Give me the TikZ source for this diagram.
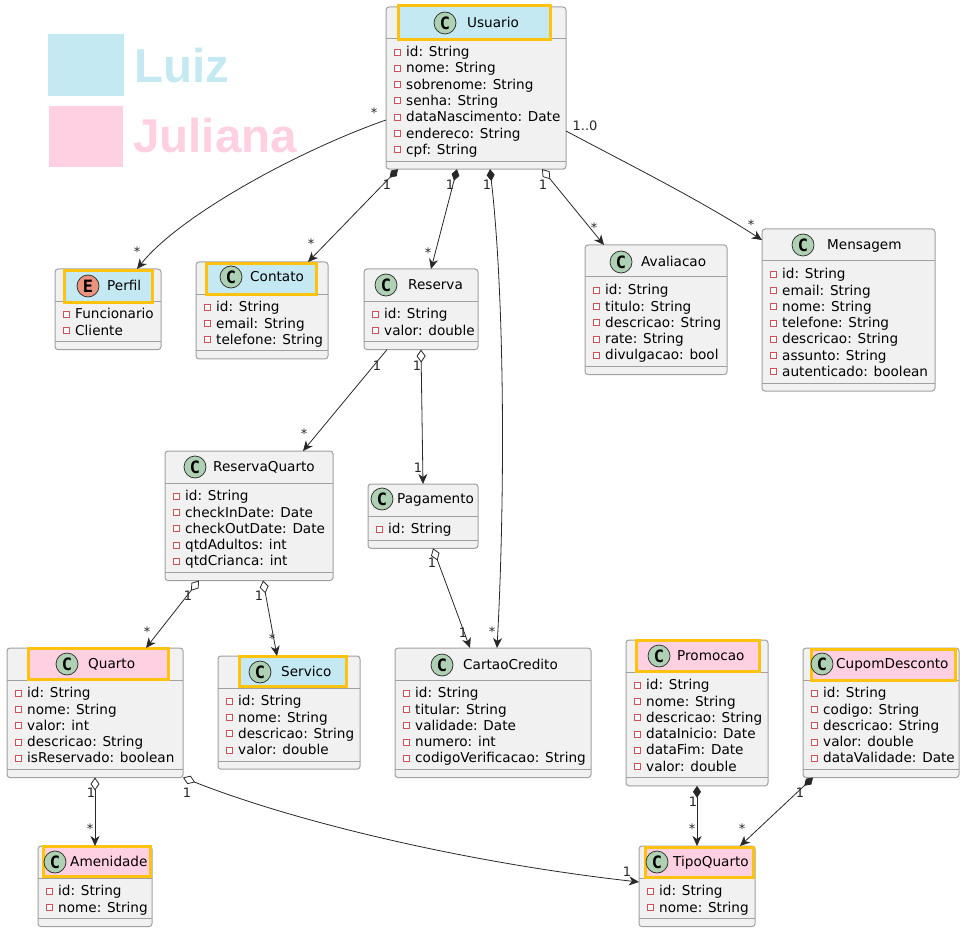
\documentclass[tikz,border=0pt]{standalone}
\usepackage{fontspec}
\setmainfont{DejaVu Sans}
\newfontfamily\legendfont{Liberation Sans}
\newfontfamily\letterfont{DejaVu Sans Mono}
\usetikzlibrary{arrows.meta}

\definecolor{luizblue}{HTML}{C5E9F3}
\definecolor{julianapink}{HTML}{FFD0E1}
\definecolor{markyellow}{HTML}{FFC20E}
\definecolor{boxgray}{HTML}{F1F1F1}
\definecolor{edgegray}{HTML}{A0A0A0}
\definecolor{lineblack}{HTML}{282828}
\definecolor{classgreen}{HTML}{ADD1B2}
\definecolor{enumred}{HTML}{EB937F}
\definecolor{iconred}{HTML}{D0505A}

\tikzset{
    classbox/.style={draw=edgegray, fill=boxgray, line width=1pt, rounded corners=3pt, inner sep=0pt, outer sep=0pt},
    headmark/.style={draw=markyellow, line width=3pt},
    member/.style={anchor=base west, inner sep=0pt, font=\fontsize{13.6}{16}\selectfont},
    badge/.style={circle, draw=lineblack, line width=0.7pt, minimum size=22pt, inner sep=0pt, font=\letterfont\bfseries\fontsize{17}{17}\selectfont},
    mult/.style={inner sep=0pt, font=\fontsize{13}{13}\selectfont, text=black!85},
    legendname/.style={anchor=base west, inner sep=0pt, font=\legendfont\bfseries\fontsize{47.5}{47.5}\selectfont},
    link/.style={draw=lineblack, line width=0.8pt},
    has/.style={link, {Diamond[length=12pt,width=8pt]}-{Stealth[length=10pt,width=9pt,inset=3pt]}},
    holds/.style={link, {Diamond[open,length=13pt,width=9pt]}-{Stealth[length=10pt,width=9pt,inset=3pt]}},
    goes/.style={link, -{Stealth[length=10pt,width=9pt,inset=3pt]}},
}

% name, left, top, right, number of members, members
\newcommand{\classbox}[6]{
    \node[classbox, minimum width={(#4-#2)*1pt}, minimum height={(48+16.3*#5)*1pt}] (#1) at ({(#2+#4)/2},{#3+(48+16.3*#5)/2}) {};
    \draw[edgegray, line width=1pt] (#2,#3+32) -- (#4,#3+32);
    \draw[edgegray, line width=1pt] (#2,{#3+40+16.3*#5}) -- (#4,{#3+40+16.3*#5});
    \foreach \m [count=\i] in {#6} {
        \draw[iconred, line width=0.8pt, fill=white] ({#2+8},{#3+42+(\i-1)*16.3}) rectangle ++(6,6);
        \node[member] (#1 m\i) at ({#2+20},{#3+49.7+(\i-1)*16.3}) {\m};
    }
}
% name, letter, badge colour, badge x, badge y, title x, title
\newcommand{\classhead}[7]{
    \node[badge, fill=#3] (#1 badge) at (#4,#5) {#2};
    \node[member] (#1 title) at (#6,#5+4.6) {#7};
}

\begin{document}
\begin{tikzpicture}[x=1pt, y=-1pt]
    \useasboundingbox (0,0) rectangle (966,933);

    % Legend
    \fill[luizblue] (48,34) rectangle (124,96);
    \fill[julianapink] (49,106) rectangle (123,167);
    \node[legendname, text=luizblue] (luiz) at (134,83) {Luiz};
    \node[legendname, text=julianapink] (juliana) at (133,153) {Juliana};

    % Classes
    \classbox{usuario}{386}{7}{566}{7}{id: String,nome: String,sobrenome: String,senha: String,dataNascimento: Date,endereco: String,cpf: String}
    \filldraw[headmark, fill=luizblue] (398.5,5.5) rectangle (550.5,39.5);
    \classhead{usuario}{C}{classgreen}{445}{23}{467}{Usuario}

    \classbox{perfil}{55}{269}{161}{2}{Funcionario,Cliente}
    \filldraw[headmark, fill=luizblue] (64,271) rectangle (152,302);
    \classhead{perfil}{E}{enumred}{88}{286}{107}{Perfil}

    \classbox{contato}{196}{262}{328}{3}{id: String,email: String,telefone: String}
    \filldraw[headmark, fill=luizblue] (206.5,264) rectangle (316,294);
    \classhead{contato}{C}{classgreen}{231}{277}{250}{Contato}

    \classbox{reserva}{364}{269}{478}{2}{id: String,valor: double}
    \classhead{reserva}{C}{classgreen}{386}{285}{408}{Reserva}

    \classbox{avaliacao}{585}{245}{727}{5}{id: String,titulo: String,descricao: String,rate: String,divulgacao: bool}
    \classhead{avaliacao}{C}{classgreen}{621}{262}{641}{Avaliacao}

    \classbox{mensagem}{762}{229}{935}{7}{id: String,email: String,nome: String,telefone: String,descricao: String,assunto: String,autenticado: boolean}
    \classhead{mensagem}{C}{classgreen}{803}{245}{827}{Mensagem}

    \classbox{reservaquarto}{165}{451}{333}{5}{id: String,checkInDate: Date,checkOutDate: Date,qtdAdultos: int,qtdCrianca: int}
    \classhead{reservaquarto}{C}{classgreen}{195}{467}{213}{ReservaQuarto}

    \classbox{pagamento}{368}{484}{478}{1}{id: String}
    \classhead{pagamento}{C}{classgreen}{382}{499}{397}{Pagamento}

    \classbox{cartao}{395}{648}{591}{5}{id: String,titular: String,validade: Date,numero: int,codigoVerificacao: String}
    \classhead{cartao}{C}{classgreen}{442}{665}{463}{CartaoCredito}

    \classbox{quarto}{7}{648}{183}{5}{id: String,nome: String,valor: int,descricao: String,isReservado: boolean}
    \filldraw[headmark, fill=julianapink] (28.5,648.5) rectangle (168.5,679.5);
    \classhead{quarto}{C}{classgreen}{67}{664}{88}{Quarto}

    \classbox{servico}{218}{656}{360}{4}{id: String,nome: String,descricao: String,valor: double}
    \filldraw[headmark, fill=luizblue] (239.5,656.5) rectangle (346.5,686.5);
    \classhead{servico}{C}{classgreen}{260}{672}{281}{Servico}

    \classbox{promocao}{626}{640}{768}{6}{id: String,nome: String,descricao: String,dataInicio: Date,dataFim: Date,valor: double}
    \filldraw[headmark, fill=julianapink] (636.5,640.5) rectangle (759.5,671.5);
    \classhead{promocao}{C}{classgreen}{659}{656}{677}{Promocao}

    \classbox{cupom}{803}{648}{959}{5}{id: String,codigo: String,descricao: String,valor: double,dataValidade: Date}
    \filldraw[headmark, fill=julianapink] (811.5,649.5) rectangle (955.5,680.5);
    \classhead{cupom}{C}{classgreen}{822}{664}{836}{CupomDesconto}

    \classbox{tipoquarto}{639}{846}{755}{2}{id: String,nome: String}
    \filldraw[headmark, fill=julianapink] (645.5,847.5) rectangle (753.5,877.5);
    \classhead{tipoquarto}{C}{classgreen}{657}{862}{673}{TipoQuarto}

    \classbox{amenidade}{38}{846}{152}{2}{id: String,nome: String}
    \filldraw[headmark, fill=julianapink] (43.5,846.5) rectangle (150.5,876.5);
    \classhead{amenidade}{C}{classgreen}{55}{862}{70}{Amenidade}

    % Connectors
    \draw[goes] ([yshift=-113pt]usuario.north west) .. controls (300,150) and (180,215) .. ([xshift=82pt]perfil.north west);
    \draw[has] ([xshift=12pt]usuario.south west) -- ([xshift=112pt]contato.north west);
    \draw[has] ([xshift=71pt]usuario.south west) -- ([xshift=67pt]reserva.north west);
    \draw[has] ([xshift=104pt]usuario.south west) .. controls (505,300) and (505,500) .. ([xshift=102pt]cartao.north west);
    \draw[holds] ([xshift=156pt]usuario.south west) -- ([xshift=19pt]avaliacao.north west);
    \draw[goes] ([yshift=-124pt]usuario.north east) .. controls (630,165) and (700,200) .. ([yshift=-11pt]mensagem.north west);
    \draw[goes] ([xshift=23pt]reserva.south west) -- ([xshift=138pt]reservaquarto.north west);
    \draw[holds] ([xshift=57pt]reserva.south west) -- ([xshift=55pt]pagamento.north west);
    \draw[holds] ([xshift=65pt]pagamento.south west) -- ([xshift=75pt]cartao.north west);
    \draw[holds] ([xshift=34pt]reservaquarto.south west) -- ([xshift=139pt]quarto.north west);
    \draw[holds] ([xshift=98pt]reservaquarto.south west) -- ([xshift=59pt]servico.north west);
    \draw[holds] ([xshift=88pt]quarto.south west) -- ([xshift=57pt]amenidade.north west);
    \draw[holds] (quarto.south east) .. controls (290,820) and (460,862) .. ([yshift=-36pt]tipoquarto.north west);
    \draw[has] ([xshift=71pt]promocao.south west) -- ([xshift=58pt]tipoquarto.north west);
    \draw[has] ([xshift=10pt]cupom.south west) -- ([xshift=101pt]tipoquarto.north west);

    % Multiplicities
    \node[mult] (m1) at (374,113) {*};
    \node[mult] (m2) at (137,252) {*};
    \node[mult] (m3) at (387,185) {1};
    \node[mult] (m4) at (311,244) {*};
    \node[mult] (m5) at (450,185) {1};
    \node[mult] (m6) at (428,253) {*};
    \node[mult] (m7) at (487,185) {1};
    \node[mult] (m8) at (492,632) {*};
    \node[mult] (m9) at (543,185) {1};
    \node[mult] (m10) at (594,228) {*};
    \node[mult] (m11) at (585,126) {1..0};
    \node[mult] (m12) at (751,225) {*};
    \node[mult] (m13) at (377,366) {1};
    \node[mult] (m14) at (304,434) {*};
    \node[mult] (m15) at (417,366) {1};
    \node[mult] (m16) at (418,468) {1};
    \node[mult] (m17) at (432,563) {1};
    \node[mult] (m18) at (463,633) {1};
    \node[mult] (m19) at (188,596) {1};
    \node[mult] (m20) at (147,632) {*};
    \node[mult] (m21) at (259,596) {1};
    \node[mult] (m22) at (272,639) {*};
    \node[mult] (m23) at (91,793) {1};
    \node[mult] (m24) at (90,829) {*};
    \node[mult] (m25) at (187,793) {1};
    \node[mult] (m26) at (627,872) {1};
    \node[mult] (m27) at (693,802) {1};
    \node[mult] (m28) at (692,829) {*};
    \node[mult] (m29) at (800,793) {1};
    \node[mult] (m30) at (742,829) {*};
\end{tikzpicture}
\end{document}
